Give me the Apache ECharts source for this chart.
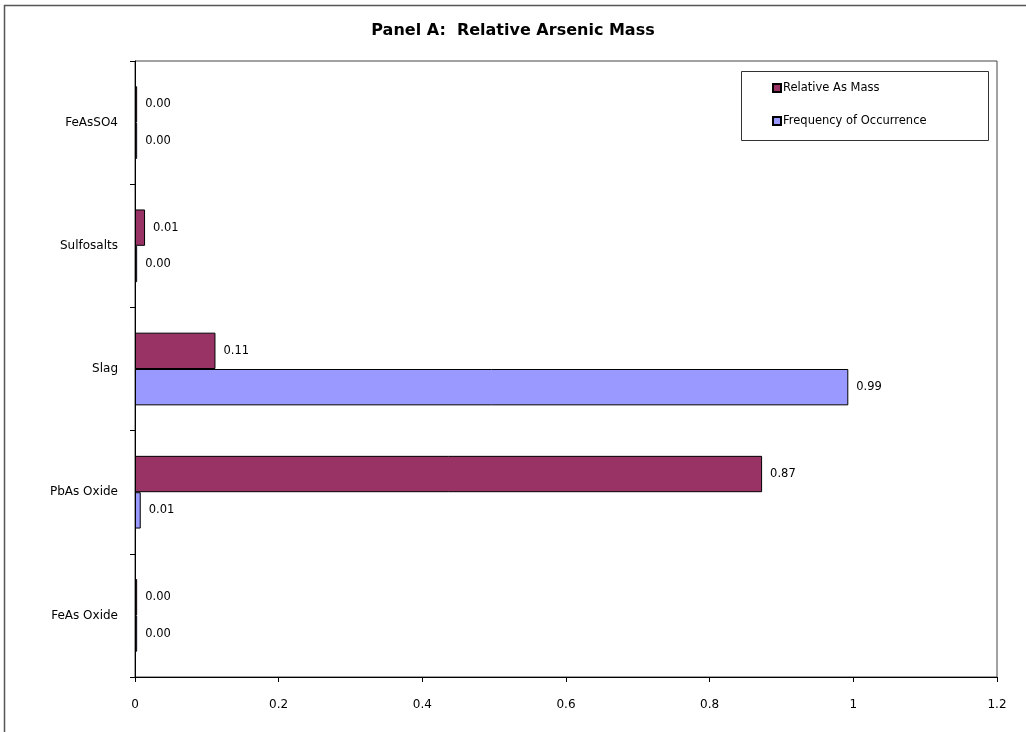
<!DOCTYPE html>
<html>
<head>
<meta charset="utf-8">
<style>
  html, body { margin: 0; padding: 0; background: #fff; }
  #chart { width: 1026px; height: 732px; }
</style>
<script src="https://cdn.jsdelivr.net/npm/echarts@6/dist/echarts.min.js"></script>
</head>
<body>
<div id="chart"></div>
<script>
// Mineral phases, listed bottom to top along the vertical axis
const categories = ['FeAs Oxide', 'PbAs Oxide', 'Slag', 'Sulfosalts', 'FeAsSO4'];
const relativeAsMass = [0.003, 0.873, 0.112, 0.014, 0.003];
const frequencyOfOccurrence = [0.003, 0.008, 0.993, 0.003, 0.003];
const xTicks = { min: 0, max: 1.2, step: 0.2 };

const FONT = '"DejaVu Sans", Verdana, sans-serif';

const chart = echarts.init(document.getElementById('chart'), null, { renderer: 'canvas' });

const valueLabel = {
  show: true,
  position: 'right',
  distance: 8,
  color: '#000',
  fontFamily: FONT,
  fontSize: 11.5,
  formatter: p => p.value.toFixed(2)
};

chart.setOption({
  animation: false,
  backgroundColor: '#fff',
  title: {
    text: 'Panel A:  Relative Arsenic Mass',
    left: 'center',
    top: 18,
    textStyle: { fontFamily: FONT, fontSize: 16, fontWeight: 'bold', color: '#000' }
  },
  grid: {
    left: 135, right: 29, top: 61, bottom: 55,
    show: true, borderColor: '#444', borderWidth: 1, backgroundColor: '#fff'
  },
  legend: {
    left: 772, top: 82,
    padding: 0,
    orient: 'vertical',
    itemWidth: 8, itemHeight: 8, itemGap: 21,
    icon: 'rect',
    textStyle: { fontFamily: FONT, fontSize: 11.5, color: '#000', padding: [0, 0, 0, -3] },
    data: ['Relative As Mass', 'Frequency of Occurrence']
  },
  xAxis: {
    type: 'value',
    min: xTicks.min, max: xTicks.max, interval: xTicks.step,
    axisLine: { show: true, lineStyle: { color: '#000', width: 1 } },
    axisTick: { show: true, length: 5, lineStyle: { color: '#000' } },
    axisLabel: { margin: 22, color: '#000', fontFamily: FONT, fontSize: 12 },
    splitLine: { show: false }
  },
  yAxis: {
    type: 'category',
    data: categories,
    axisLine: { show: true, lineStyle: { color: '#000', width: 1 } },
    axisTick: { show: true, length: 5, lineStyle: { color: '#000' } },
    axisLabel: { margin: 17, color: '#000', fontFamily: FONT, fontSize: 12 },
    splitLine: { show: false }
  },
  series: [
    {
      name: 'Relative As Mass',
      type: 'bar',
      data: relativeAsMass,
      barGap: '0%',
      barCategoryGap: '41%',
      itemStyle: { color: '#993366', borderColor: '#000', borderWidth: 1 },
      label: valueLabel
    },
    {
      name: 'Frequency of Occurrence',
      type: 'bar',
      data: frequencyOfOccurrence,
      barGap: '0%',
      barCategoryGap: '41%',
      itemStyle: { color: '#9999FF', borderColor: '#000', borderWidth: 1 },
      label: valueLabel
    }
  ],
  graphic: [
    // outer chart frame
    { type: 'rect', shape: { x: 4.5, y: 5.5, width: 1040, height: 760 },
      style: { fill: 'none', stroke: '#555', lineWidth: 1.5 }, silent: true, z: 100 },
    // legend box
    { type: 'rect', shape: { x: 741.5, y: 71.5, width: 247, height: 69 },
      style: { fill: 'none', stroke: '#333', lineWidth: 1 }, silent: true, z: 100 }
  ]
});
</script>
</body>
</html>
